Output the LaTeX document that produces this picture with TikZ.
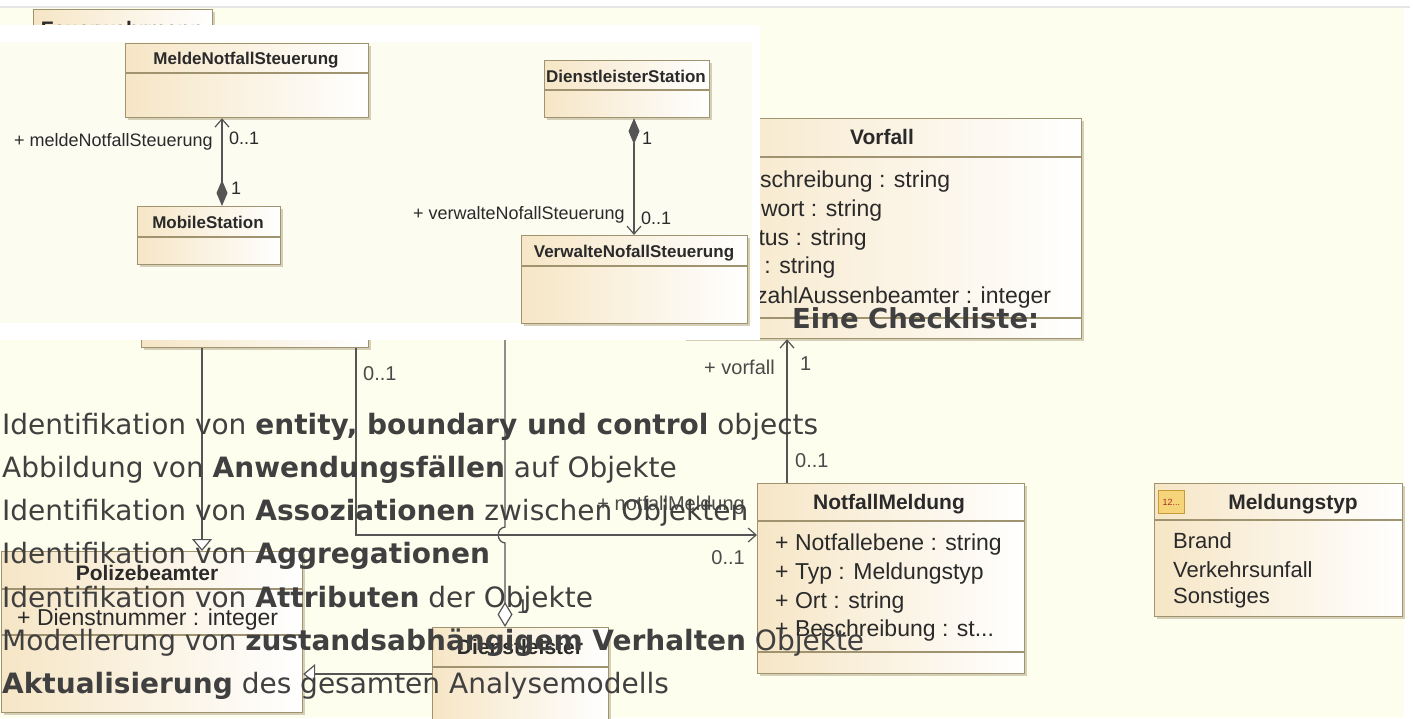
\documentclass[tikz,border=0pt]{standalone}
\usepackage{fontspec}
\usetikzlibrary{arrows.meta}
\newfontfamily\umlf{Liberation Sans}
\newfontfamily\chkf{DejaVu Sans}
\definecolor{bgc}{HTML}{FEFEEE}
\definecolor{ovc}{HTML}{FCFCF1}
\definecolor{umlB}{HTML}{A0936F}
\definecolor{umlL}{HTML}{F6E6C6}
\definecolor{umlS}{HTML}{D6CFB8}
\definecolor{lnc}{HTML}{555555}
\definecolor{umltxt}{HTML}{2A2A2A}
\definecolor{lblc}{HTML}{4A4A4A}
\definecolor{chk}{HTML}{404040}
\definecolor{grayline}{HTML}{E6E6E6}
\definecolor{icoF}{HTML}{F6D47A}
\definecolor{icoB}{HTML}{C89A3A}
\definecolor{icoT}{HTML}{A82A20}
\tikzset{
  umlbox/.style={draw=umlB, line width=1.2pt, left color=umlL, right color=white, inner sep=0pt, anchor=north west},
  divs/.style={draw=umlB, line width=1.2pt},
  conn/.style={draw=lnc, line width=1.3pt},
  ttl/.style={font=\umlf\bfseries\fontsize{21}{24}\selectfont, text=umltxt, inner sep=0pt, anchor=base},
  att/.style={font=\umlf\fontsize{23}{27}\selectfont, text=umltxt, inner sep=0pt, anchor=base west},
  ottl/.style={font=\umlf\bfseries\fontsize{17}{20}\selectfont, text=umltxt, inner sep=0pt, anchor=base},
  olab/.style={font=\umlf\fontsize{18}{21}\selectfont, text=umltxt, inner sep=0pt},
  lab/.style={font=\umlf\fontsize{20}{23}\selectfont, text=lblc, inner sep=0pt},
  chkline/.style={font=\chkf\fontsize{28}{34}\selectfont, text=chk, inner sep=0pt, anchor=base west},
  chkhead/.style={font=\chkf\bfseries\fontsize{27.5}{33}\selectfont, text=chk, inner sep=0pt, anchor=base west},
  umlFDia/.tip={Diamond[length=26pt,width=11pt,fill=lnc,line width=1pt]},
  umlODia/.tip={Diamond[length=25pt,width=15pt,fill=white,line width=1.2pt]},
  umlBarb/.tip={Straight Barb[length=8pt,width=14pt,line width=1.2pt]},
  umlTri/.tip={Triangle[length=12pt,width=20pt,fill=white,line width=1.2pt]}
}
\newcommand\umlbx[5]{%
  \fill[umlS] (#2+2.5,#3+2.5) rectangle (#4+2.5,#5+2.5);
  \node[umlbox, minimum width={#4-#2}, minimum height={#5-#3}] (#1) at (#2,#3) {};
}
\newcommand\divl[2]{\draw[divs] (#1.west |- 0,#2) -- (#1.east |- 0,#2);}
\begin{document}
\begin{tikzpicture}[x=1pt,y=-1pt]
\useasboundingbox (0,0) rectangle (1413,718);
\fill[white] (0,0) rectangle (1413,718);
\fill[grayline] (0,6) rectangle (1410,8);
\fill[bgc] (0,8) rectangle (1404,718);

% ---------- background diagram ----------
\umlbx{fw}{33}{9}{212}{80}
\node[ttl] (fwt) at (122,36) {Feuerwehrmann};
\umlbx{hid}{141}{200}{368}{347}

\umlbx{vf}{683}{118}{1081}{338}
\divl{vf}{157}\divl{vf}{318}
\node[ttl] (vft) at (882,144) {Vorfall};
\node[att] (vf1) at (712,187) {+ Beschreibung : string};
\node[att] (vf2) at (690,216) {+ Stichwort : string};
\node[att] (vf3) at (704,245) {+ Status : string};
\node[att] (vf4) at (706,273) {+ Ort : string};
\node[att] (vf5) at (708,303) {+ AnzahlAussenbeamter : integer};

\umlbx{nm}{757}{483}{1024}{673}
\divl{nm}{521}\divl{nm}{652}
\node[ttl] (nmt) at (889,509) {NotfallMeldung};
\node[att] (nm1) at (775,550) {+ Notfallebene : string};
\node[att] (nm2) at (775,579) {+ Typ : Meldungstyp};
\node[att] (nm3) at (775,608) {+ Ort : string};
\node[att] (nm4) at (775,636) {+ Beschreibung : st...};

\umlbx{mt}{1154}{483}{1402}{616}
\divl{mt}{520}
\node[ttl] (mtt) at (1293,509) {Meldungstyp};
\node[draw=icoB, fill=icoF, line width=0.8pt, minimum width=26, minimum height=23, anchor=north west, inner sep=0pt, font=\umlf\fontsize{9}{10}\selectfont, text=icoT] (ico) at (1158,490) {12...};
\node[att, font=\umlf\fontsize{22}{26}\selectfont] (mt1) at (1173,548) {Brand};
\node[att, font=\umlf\fontsize{22}{26}\selectfont] (mt2) at (1173,577) {Verkehrsunfall};
\node[att, font=\umlf\fontsize{22}{26}\selectfont] (mt3) at (1173,603) {Sonstiges};

\umlbx{pb}{1}{551}{302}{712}
\divl{pb}{589}\divl{pb}{635}
\node[ttl] (pbt) at (147,580) {Polizebeamter};
\node[att] (pb1) at (17,625) {+ Dienstnummer : integer};

\umlbx{dl}{432}{627}{608}{740}
\divl{dl}{667}
\node[ttl] (dlt) at (520,654) {Dienstleister};

% connectors
\coordinate (c3) at (202,0);
\coordinate (c4) at (356,0);
\coordinate (c5) at (505,330);
\coordinate (c6) at (787,0);
\draw[conn,-umlTri] (c3 |- hid.south) -- (c3 |- pb.north);
\draw[conn,-umlBarb] (c4 |- hid.south) |- (nm.west |- 0,535);
\draw[conn,-umlODia] (c5) -- (505,527) .. controls (496,528) and (496,542) .. (505,543) -- (c5 |- dl.north);
\draw[conn,-umlBarb] (c6 |- nm.north) -- (c6 |- vf.south);
\draw[conn,-umlTri] (dl.west |- 0,674) -- (pb.east |- 0,674);

\node[lab, anchor=base west] (l01c) at (363,380) {0..1};
\node[lab, anchor=base east] (lvf) at (775,374) {+ vorfall};
\node[lab, anchor=base west] (l1c) at (800,370) {1};
\node[lab, anchor=base west] (l01d) at (795,467) {0..1};
\node[lab, anchor=base east] (lnm) at (745,510) {+ notfallMeldung};
\node[lab, anchor=base east] (l01e) at (745,564) {0..1};
\node[lab, anchor=base west] (l1d) at (517,613) {1};

% ---------- overlay picture ----------
\fill[white] (0,25) rectangle (760,340);
\fill[ovc] (0,42) rectangle (752,323);

\umlbx{mns}{125}{43}{368}{117}
\divl{mns}{73}
\node[ottl] (mnst) at (246,64) {MeldeNotfallSteuerung};
\umlbx{ms}{137}{206}{280}{264}
\divl{ms}{237}
\node[ottl] (mst) at (208,228) {MobileStation};
\umlbx{ds}{544}{60}{709}{117}
\divl{ds}{90}
\node[ottl] (dst) at (626,82) {DienstleisterStation};
\umlbx{vn}{521}{235}{747}{323}
\divl{vn}{266}
\node[ottl] (vnt) at (634,257) {VerwalteNofallSteuerung};

\coordinate (c1) at (222,0);
\coordinate (c2) at (634,0);
\draw[conn,umlFDia-umlBarb] (c1 |- ms.north) -- (c1 |- mns.south);
\draw[conn,umlFDia-umlBarb] (c2 |- ds.south) -- (c2 |- vn.north);

\node[olab, anchor=base east] (lmns) at (213,146) {+ meldeNotfallSteuerung};
\node[olab, anchor=base west] (l01a) at (229,144) {0..1};
\node[olab, anchor=base west] (l1a) at (231,194) {1};
\node[olab, anchor=base west] (l1b) at (642,144) {1};
\node[olab, anchor=base east] (lvns) at (625,219) {+ verwalteNofallSteuerung};
\node[olab, anchor=base west] (l01b) at (641,224) {0..1};

% ---------- checklist text ----------
\node[chkhead] (head) at (792,328) {Eine Checkliste:};
\node[chkline] (t1) at (2,434) {Identifikation von \textbf{entity, boundary und control} objects};
\node[chkline] (t2) at (2,477) {Abbildung von \textbf{Anwendungsfällen} auf Objekte};
\node[chkline] (t3) at (2,520) {Identifikation von \textbf{Assoziationen} zwischen Objekten};
\node[chkline] (t4) at (2,563) {Identifikation von \textbf{Aggregationen}};
\node[chkline] (t5) at (2,607) {Identifikation von \textbf{Attributen} der Objekte};
\node[chkline] (t6) at (2,650) {Modellerung von \textbf{zustandsabhängigem Verhalten} Objekte};
\node[chkline] (t7) at (2,693) {\textbf{Aktualisierung} des gesamten Analysemodells};
\end{tikzpicture}
\end{document}
